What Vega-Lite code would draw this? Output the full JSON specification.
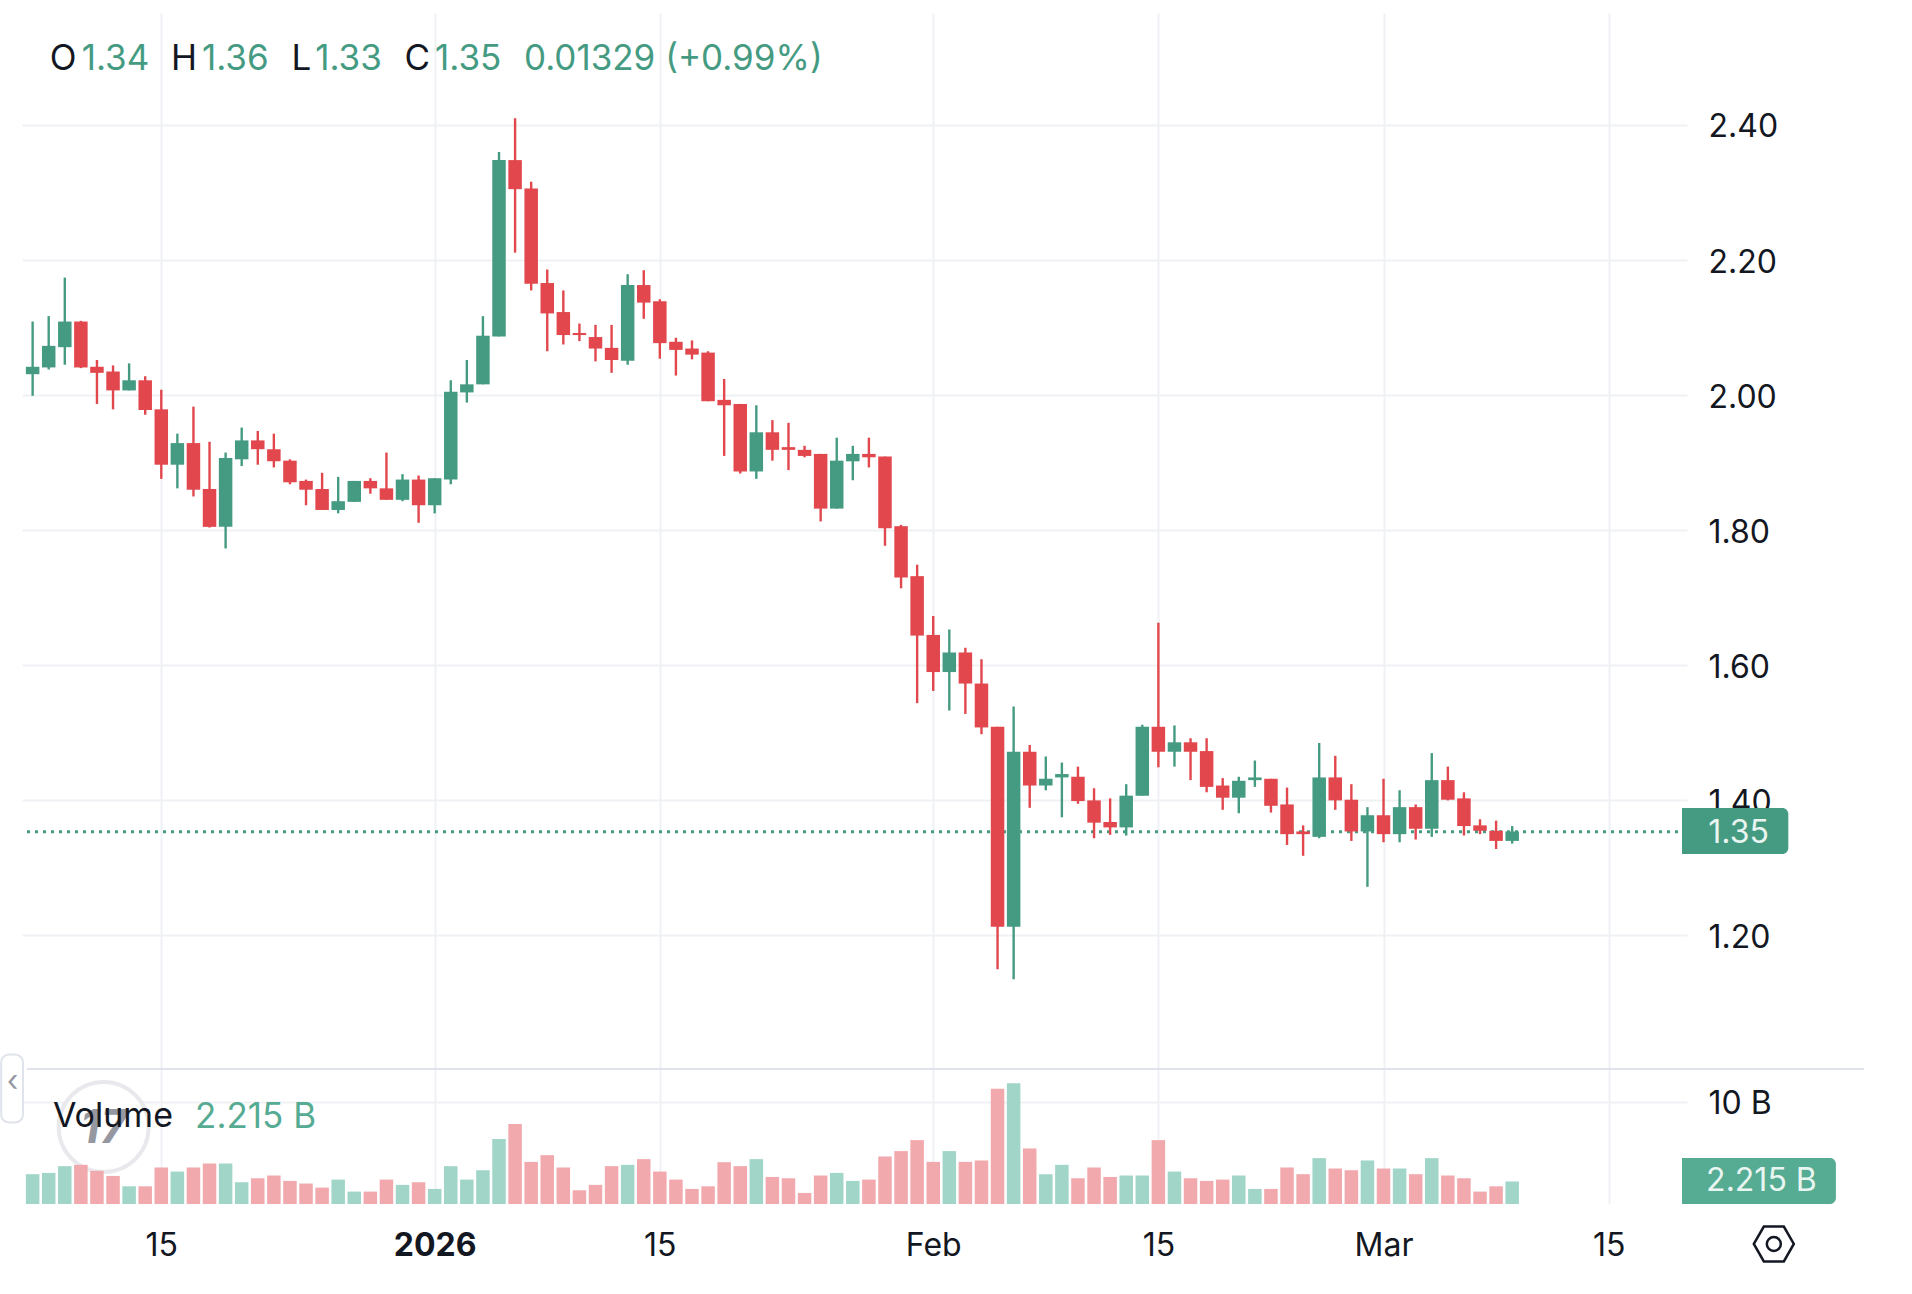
{
"$schema":"https://vega.github.io/schema/vega-lite/v6.json",
"background":"#ffffff",
"padding":{"left":0,"top":13,"right":0,"bottom":0},
"spacing":0,
"bounds":"flush",
"config":{"view":{"stroke":null},"text":{"font":"Inter"},"axis":{"labelFont":"Inter"}},
"datasets":{"one":[{}],"candles":[
{"date":"2025-12-07","open":2.031,"high":2.109,"low":1.999,"close":2.042,"volume":2.93},
{"date":"2025-12-08","open":2.041,"high":2.117,"low":2.038,"close":2.073,"volume":3.06},
{"date":"2025-12-09","open":2.071,"high":2.174,"low":2.045,"close":2.109,"volume":3.72},
{"date":"2025-12-10","open":2.109,"high":2.11,"low":2.04,"close":2.041,"volume":3.85},
{"date":"2025-12-11","open":2.042,"high":2.052,"low":1.987,"close":2.033,"volume":3.26},
{"date":"2025-12-12","open":2.035,"high":2.044,"low":1.979,"close":2.007,"volume":2.76},
{"date":"2025-12-13","open":2.007,"high":2.047,"low":2.007,"close":2.022,"volume":1.74},
{"date":"2025-12-14","open":2.022,"high":2.028,"low":1.971,"close":1.978,"volume":1.74},
{"date":"2025-12-15","open":1.979,"high":2.008,"low":1.876,"close":1.897,"volume":3.59},
{"date":"2025-12-16","open":1.897,"high":1.943,"low":1.862,"close":1.929,"volume":3.19},
{"date":"2025-12-17","open":1.929,"high":1.983,"low":1.85,"close":1.86,"volume":3.59},
{"date":"2025-12-18","open":1.861,"high":1.931,"low":1.804,"close":1.805,"volume":3.98},
{"date":"2025-12-19","open":1.805,"high":1.915,"low":1.773,"close":1.907,"volume":3.98},
{"date":"2025-12-20","open":1.905,"high":1.952,"low":1.895,"close":1.933,"volume":2.14},
{"date":"2025-12-21","open":1.933,"high":1.947,"low":1.897,"close":1.92,"volume":2.53},
{"date":"2025-12-22","open":1.92,"high":1.943,"low":1.893,"close":1.902,"volume":2.8},
{"date":"2025-12-23","open":1.903,"high":1.905,"low":1.868,"close":1.871,"volume":2.27},
{"date":"2025-12-24","open":1.873,"high":1.875,"low":1.837,"close":1.86,"volume":2.01},
{"date":"2025-12-25","open":1.861,"high":1.885,"low":1.83,"close":1.83,"volume":1.61},
{"date":"2025-12-26","open":1.83,"high":1.879,"low":1.825,"close":1.843,"volume":2.4},
{"date":"2025-12-27","open":1.842,"high":1.873,"low":1.842,"close":1.873,"volume":1.22},
{"date":"2025-12-28","open":1.873,"high":1.877,"low":1.854,"close":1.862,"volume":1.22},
{"date":"2025-12-29","open":1.862,"high":1.915,"low":1.845,"close":1.845,"volume":2.4},
{"date":"2025-12-30","open":1.845,"high":1.883,"low":1.843,"close":1.875,"volume":1.88},
{"date":"2025-12-31","open":1.875,"high":1.881,"low":1.811,"close":1.837,"volume":2.14},
{"date":"2026-01-01","open":1.837,"high":1.877,"low":1.825,"close":1.877,"volume":1.48},
{"date":"2026-01-02","open":1.875,"high":2.022,"low":1.868,"close":2.005,"volume":3.72},
{"date":"2026-01-03","open":2.004,"high":2.052,"low":1.989,"close":2.016,"volume":2.4},
{"date":"2026-01-04","open":2.016,"high":2.117,"low":2.016,"close":2.088,"volume":3.32},
{"date":"2026-01-05","open":2.087,"high":2.36,"low":2.087,"close":2.348,"volume":6.38},
{"date":"2026-01-06","open":2.348,"high":2.41,"low":2.211,"close":2.305,"volume":7.86},
{"date":"2026-01-07","open":2.306,"high":2.316,"low":2.155,"close":2.165,"volume":4.14},
{"date":"2026-01-08","open":2.166,"high":2.186,"low":2.065,"close":2.121,"volume":4.8},
{"date":"2026-01-09","open":2.123,"high":2.155,"low":2.075,"close":2.089,"volume":3.59},
{"date":"2026-01-10","open":2.092,"high":2.106,"low":2.08,"close":2.089,"volume":1.35},
{"date":"2026-01-11","open":2.086,"high":2.104,"low":2.05,"close":2.069,"volume":1.88},
{"date":"2026-01-12","open":2.07,"high":2.104,"low":2.033,"close":2.052,"volume":3.72},
{"date":"2026-01-13","open":2.051,"high":2.179,"low":2.045,"close":2.163,"volume":3.85},
{"date":"2026-01-14","open":2.163,"high":2.185,"low":2.113,"close":2.137,"volume":4.41},
{"date":"2026-01-15","open":2.139,"high":2.142,"low":2.054,"close":2.077,"volume":3.19},
{"date":"2026-01-16","open":2.079,"high":2.085,"low":2.029,"close":2.067,"volume":2.4},
{"date":"2026-01-17","open":2.069,"high":2.081,"low":2.053,"close":2.06,"volume":1.48},
{"date":"2026-01-18","open":2.063,"high":2.065,"low":1.991,"close":1.991,"volume":1.74},
{"date":"2026-01-19","open":1.993,"high":2.024,"low":1.91,"close":1.985,"volume":4.11},
{"date":"2026-01-20","open":1.987,"high":1.987,"low":1.884,"close":1.887,"volume":3.72},
{"date":"2026-01-21","open":1.887,"high":1.985,"low":1.876,"close":1.945,"volume":4.41},
{"date":"2026-01-22","open":1.945,"high":1.963,"low":1.903,"close":1.919,"volume":2.66},
{"date":"2026-01-23","open":1.923,"high":1.959,"low":1.889,"close":1.919,"volume":2.53},
{"date":"2026-01-24","open":1.919,"high":1.925,"low":1.908,"close":1.91,"volume":1.09},
{"date":"2026-01-25","open":1.913,"high":1.913,"low":1.813,"close":1.832,"volume":2.8},
{"date":"2026-01-26","open":1.832,"high":1.937,"low":1.832,"close":1.903,"volume":3.06},
{"date":"2026-01-27","open":1.902,"high":1.925,"low":1.874,"close":1.913,"volume":2.27},
{"date":"2026-01-28","open":1.913,"high":1.937,"low":1.893,"close":1.908,"volume":2.4},
{"date":"2026-01-29","open":1.909,"high":1.909,"low":1.777,"close":1.803,"volume":4.67},
{"date":"2026-01-30","open":1.806,"high":1.808,"low":1.714,"close":1.73,"volume":5.2},
{"date":"2026-01-31","open":1.732,"high":1.749,"low":1.544,"close":1.644,"volume":6.28},
{"date":"2026-02-01","open":1.645,"high":1.673,"low":1.562,"close":1.59,"volume":4.14},
{"date":"2026-02-02","open":1.59,"high":1.653,"low":1.533,"close":1.619,"volume":5.2},
{"date":"2026-02-03","open":1.619,"high":1.626,"low":1.528,"close":1.573,"volume":4.14},
{"date":"2026-02-04","open":1.573,"high":1.609,"low":1.498,"close":1.508,"volume":4.28},
{"date":"2026-02-05","open":1.509,"high":1.509,"low":1.15,"close":1.213,"volume":11.32},
{"date":"2026-02-06","open":1.213,"high":1.539,"low":1.135,"close":1.472,"volume":11.88},
{"date":"2026-02-07","open":1.472,"high":1.482,"low":1.389,"close":1.422,"volume":5.46},
{"date":"2026-02-08","open":1.422,"high":1.465,"low":1.415,"close":1.432,"volume":2.93},
{"date":"2026-02-09","open":1.434,"high":1.456,"low":1.375,"close":1.439,"volume":3.85},
{"date":"2026-02-10","open":1.435,"high":1.45,"low":1.395,"close":1.399,"volume":2.53},
{"date":"2026-02-11","open":1.4,"high":1.418,"low":1.344,"close":1.367,"volume":3.59},
{"date":"2026-02-12","open":1.368,"high":1.403,"low":1.349,"close":1.36,"volume":2.66},
{"date":"2026-02-13","open":1.36,"high":1.424,"low":1.348,"close":1.407,"volume":2.8},
{"date":"2026-02-14","open":1.407,"high":1.512,"low":1.407,"close":1.509,"volume":2.8},
{"date":"2026-02-15","open":1.509,"high":1.663,"low":1.449,"close":1.472,"volume":6.28},
{"date":"2026-02-16","open":1.472,"high":1.511,"low":1.45,"close":1.486,"volume":3.19},
{"date":"2026-02-17","open":1.486,"high":1.492,"low":1.43,"close":1.472,"volume":2.53},
{"date":"2026-02-18","open":1.473,"high":1.492,"low":1.412,"close":1.42,"volume":2.27},
{"date":"2026-02-19","open":1.422,"high":1.433,"low":1.386,"close":1.404,"volume":2.4},
{"date":"2026-02-20","open":1.404,"high":1.435,"low":1.381,"close":1.429,"volume":2.8},
{"date":"2026-02-21","open":1.43,"high":1.459,"low":1.42,"close":1.434,"volume":1.48},
{"date":"2026-02-22","open":1.432,"high":1.432,"low":1.382,"close":1.392,"volume":1.48},
{"date":"2026-02-23","open":1.394,"high":1.419,"low":1.334,"close":1.35,"volume":3.59},
{"date":"2026-02-24","open":1.354,"high":1.363,"low":1.318,"close":1.35,"volume":2.93},
{"date":"2026-02-25","open":1.346,"high":1.485,"low":1.344,"close":1.434,"volume":4.51},
{"date":"2026-02-26","open":1.434,"high":1.466,"low":1.386,"close":1.4,"volume":3.49},
{"date":"2026-02-27","open":1.401,"high":1.424,"low":1.34,"close":1.354,"volume":3.32},
{"date":"2026-02-28","open":1.354,"high":1.39,"low":1.272,"close":1.378,"volume":4.28},
{"date":"2026-03-01","open":1.378,"high":1.432,"low":1.338,"close":1.35,"volume":3.49},
{"date":"2026-03-02","open":1.35,"high":1.415,"low":1.338,"close":1.39,"volume":3.49},
{"date":"2026-03-03","open":1.39,"high":1.394,"low":1.342,"close":1.358,"volume":2.93},
{"date":"2026-03-04","open":1.358,"high":1.47,"low":1.346,"close":1.43,"volume":4.51},
{"date":"2026-03-05","open":1.43,"high":1.45,"low":1.4,"close":1.401,"volume":2.8},
{"date":"2026-03-06","open":1.403,"high":1.412,"low":1.348,"close":1.362,"volume":2.53},
{"date":"2026-03-07","open":1.363,"high":1.372,"low":1.35,"close":1.355,"volume":1.22},
{"date":"2026-03-08","open":1.355,"high":1.37,"low":1.328,"close":1.34,"volume":1.74},
{"date":"2026-03-09","open":1.34,"high":1.362,"low":1.336,"close":1.354,"volume":2.215}
]},
"vconcat":[
{
"width":1665,
"height":1056,
"encoding":{
"x":{"type":"temporal","title":null,
"scale":{"type":"utc","domain":["2025-12-06T15:36:00Z","2026-03-19T13:26:00Z"]},
"axis":{"values":["2025-12-15","2026-01-01","2026-01-15","2026-02-01","2026-02-15","2026-03-01","2026-03-15"],"labels":false,"ticks":false,"domain":false,"grid":true,"gridColor":"#f0f1f4","gridWidth":2}},
"y":{"type":"quantitative","title":null,
"scale":{"domain":[1.0023,2.5658],"nice":false,"zero":false},
"axis":{"orient":"right","values":[1.2,1.4,1.6,1.8,2.0,2.2,2.4],"format":".2f","ticks":false,"domain":false,"grid":true,"gridColor":"#f0f1f4","gridWidth":2,"labelFontSize":32,"labelColor":"#131722","labelPadding":21,"labelAlign":"left","labelOffset":2}}
},
"layer":[
{"data":{"name":"one"},"mark":{"type":"rule","stroke":"#459b82","strokeWidth":3,"strokeDash":[3,5]},"encoding":{"x":{"datum":{"year":2025,"month":12,"date":6,"hours":15,"minutes":36,"utc":true},"type":"temporal"},"x2":{"datum":{"year":2026,"month":3,"date":19,"hours":13,"minutes":26,"utc":true}},"y":{"datum":1.3537}}},
{"data":{"name":"candles"},"mark":{"type":"rule","strokeWidth":2.4},"encoding":{"x":{"field":"date","type":"temporal"},"y":{"field":"low","type":"quantitative"},"y2":{"field":"high"},"color":{"condition":{"test":"datum.close >= datum.open","value":"#459b82"},"value":"#e1474d"}}},
{"data":{"name":"candles"},"mark":{"type":"bar","size":13.5},"encoding":{"x":{"field":"date","type":"temporal"},"y":{"field":"open","type":"quantitative"},"y2":{"field":"close"},"color":{"condition":{"test":"datum.close >= datum.open","value":"#459b82"},"value":"#e1474d"}}},
{"data":{"name":"one"},"mark":{"type":"rect","fill":"#459b82","cornerRadiusTopRight":6,"cornerRadiusBottomRight":6},"encoding":{"x":{"datum":{"year":2026,"month":3,"date":19,"hours":13,"minutes":26,"utc":true},"type":"temporal"},"x2":{"datum":{"year":2026,"month":3,"date":26,"hours":4,"minutes":5,"utc":true}},"y":{"datum":1.3887},"y2":{"datum":1.3207}}},
{"data":{"name":"one"},"mark":{"type":"text","text":"1.35","fill":"#e9f5f1","fontSize":32,"align":"center","baseline":"middle"},"encoding":{"x":{"datum":{"year":2026,"month":3,"date":23,"hours":1,"minutes":55,"utc":true},"type":"temporal"},"y":{"datum":1.351}}},
{"data":{"name":"one"},"mark":{"type":"text","text":"O","fill":"#131722","fontSize":35,"align":"left","baseline":"middle"},"encoding":{"x":{"datum":{"year":2025,"month":12,"date":8,"hours":1,"minutes":40,"utc":true},"type":"temporal"},"y":{"datum":2.497}}},
{"data":{"name":"one"},"mark":{"type":"text","text":"1.34","fill":"#459b82","fontSize":35,"align":"left","baseline":"middle"},"encoding":{"x":{"datum":{"year":2025,"month":12,"date":10,"hours":1,"minutes":12,"utc":true},"type":"temporal"},"y":{"datum":2.497}}},
{"data":{"name":"one"},"mark":{"type":"text","text":"H","fill":"#131722","fontSize":35,"align":"left","baseline":"middle"},"encoding":{"x":{"datum":{"year":2025,"month":12,"date":15,"hours":14,"minutes":38,"utc":true},"type":"temporal"},"y":{"datum":2.497}}},
{"data":{"name":"one"},"mark":{"type":"text","text":"1.36","fill":"#459b82","fontSize":35,"align":"left","baseline":"middle"},"encoding":{"x":{"datum":{"year":2025,"month":12,"date":17,"hours":12,"minutes":43,"utc":true},"type":"temporal"},"y":{"datum":2.497}}},
{"data":{"name":"one"},"mark":{"type":"text","text":"L","fill":"#131722","fontSize":35,"align":"left","baseline":"middle"},"encoding":{"x":{"datum":{"year":2025,"month":12,"date":23,"hours":2,"minutes":10,"utc":true},"type":"temporal"},"y":{"datum":2.497}}},
{"data":{"name":"one"},"mark":{"type":"text","text":"1.33","fill":"#459b82","fontSize":35,"align":"left","baseline":"middle"},"encoding":{"x":{"datum":{"year":2025,"month":12,"date":24,"hours":13,"minutes":41,"utc":true},"type":"temporal"},"y":{"datum":2.497}}},
{"data":{"name":"one"},"mark":{"type":"text","text":"C","fill":"#131722","fontSize":35,"align":"left","baseline":"middle"},"encoding":{"x":{"datum":{"year":2025,"month":12,"date":30,"hours":3,"minutes":7,"utc":true},"type":"temporal"},"y":{"datum":2.497}}},
{"data":{"name":"one"},"mark":{"type":"text","text":"1.35","fill":"#459b82","fontSize":35,"align":"left","baseline":"middle"},"encoding":{"x":{"datum":{"year":2026,"month":1,"date":1,"hours":0,"minutes":29,"utc":true},"type":"temporal"},"y":{"datum":2.497}}},
{"data":{"name":"one"},"mark":{"type":"text","text":"0.01329 (+0.99%)","fill":"#459b82","fontSize":35,"align":"left","baseline":"middle"},"encoding":{"x":{"datum":{"year":2026,"month":1,"date":6,"hours":13,"minutes":12,"utc":true},"type":"temporal"},"y":{"datum":2.497}}}
]
},
{
"width":1665,
"height":135,
"encoding":{
"x":{"type":"temporal","title":null,
"scale":{"type":"utc","domain":["2025-12-06T15:36:00Z","2026-03-19T13:26:00Z"]},
"axis":{"values":["2025-12-15","2026-01-01","2026-01-15","2026-02-01","2026-02-15","2026-03-01","2026-03-15"],
"labelExpr":"utcdate(datum.value) == 15 ? '15' : utcmonth(datum.value) == 0 ? '2026' : utcFormat(datum.value, '%b')",
"labelFontWeight":{"condition":{"test":"utcmonth(datum.value) == 0 && utcdate(datum.value) == 1","value":"bold"},"value":"normal"},
"ticks":false,"domain":false,"grid":true,"gridColor":"#f0f1f4","gridWidth":2,"labelFontSize":32,"labelColor":"#131722","labelPadding":26,"labelFlush":false,"labelOverlap":false}},
"y":{"type":"quantitative","title":null,
"scale":{"domain":[0,13.27],"nice":false},
"axis":{"orient":"right","values":[10],"labelExpr":"'10 B'","ticks":false,"domain":false,"grid":true,"gridColor":"#f0f1f4","gridWidth":2,"labelFontSize":32,"labelColor":"#131722","labelPadding":21,"labelAlign":"left","labelOffset":1}}
},
"layer":[
{"data":{"name":"one"},"mark":{"type":"rule","stroke":"#e0e3eb","strokeWidth":2},"encoding":{"x":{"datum":{"year":2025,"month":12,"date":6,"hours":15,"minutes":36,"utc":true},"type":"temporal"},"x2":{"datum":{"year":2026,"month":3,"date":30,"hours":20,"minutes":53,"utc":true}},"y":{"datum":13.27}}},
{"data":{"name":"one"},"mark":{"type":"rect","fill":"#ffffff","stroke":"#e0e3eb","strokeWidth":2,"cornerRadius":8},"encoding":{"x":{"datum":{"year":2025,"month":12,"date":5,"hours":1,"minutes":2,"utc":true},"type":"temporal"},"x2":{"datum":{"year":2025,"month":12,"date":6,"hours":9,"minutes":36,"utc":true}},"y":{"datum":14.7},"y2":{"datum":8.0}}},
{"data":{"name":"one"},"mark":{"type":"text","text":"‹","fill":"#9598a1","fontSize":30,"align":"center","baseline":"middle"},"encoding":{"x":{"datum":{"year":2025,"month":12,"date":5,"hours":18,"utc":true},"type":"temporal"},"y":{"datum":12.0}}},
{"data":{"name":"one"},"mark":{"type":"point","shape":"circle","size":8100,"filled":true,"fill":"#ffffff","stroke":"#e9e9ed","strokeWidth":4,"opacity":1},"encoding":{"x":{"datum":{"year":2025,"month":12,"date":11,"hours":10,"utc":true},"type":"temporal"},"y":{"datum":7.57}}},
{"data":{"name":"one"},"mark":{"type":"text","text":"17","fill":"#9598a1","fontSize":46,"fontWeight":"bold","fontStyle":"italic","align":"center","baseline":"middle"},"encoding":{"x":{"datum":{"year":2025,"month":12,"date":11,"hours":10,"utc":true},"type":"temporal"},"y":{"datum":7.4}}},
{"data":{"name":"candles"},"mark":{"type":"bar","size":13.5},"encoding":{"x":{"field":"date","type":"temporal"},"y":{"field":"volume","type":"quantitative"},"color":{"condition":{"test":"datum.close >= datum.open","value":"#a0d5c8"},"value":"#f1a9ad"}}},
{"data":{"name":"one"},"mark":{"type":"rect","fill":"#56ab93","cornerRadiusTopRight":6,"cornerRadiusBottomRight":6},"encoding":{"x":{"datum":{"year":2026,"month":3,"date":19,"hours":13,"minutes":26,"utc":true},"type":"temporal"},"x2":{"datum":{"year":2026,"month":3,"date":29,"hours":3,"minutes":7,"utc":true}},"y":{"datum":4.52},"y2":{"datum":0}}},
{"data":{"name":"one"},"mark":{"type":"text","text":"2.215 B","fill":"#e9f5f1","fontSize":32,"align":"center","baseline":"middle"},"encoding":{"x":{"datum":{"year":2026,"month":3,"date":24,"hours":12,"utc":true},"type":"temporal"},"y":{"datum":2.26}}},
{"data":{"name":"one"},"mark":{"type":"text","text":"Volume","fill":"#131722","fontSize":34,"align":"left","baseline":"middle"},"encoding":{"x":{"datum":{"year":2025,"month":12,"date":8,"hours":6,"minutes":14,"utc":true},"type":"temporal"},"y":{"datum":8.55}}},
{"data":{"name":"one"},"mark":{"type":"text","text":"2.215 B","fill":"#56ab93","fontSize":35,"align":"left","baseline":"middle"},"encoding":{"x":{"datum":{"year":2025,"month":12,"date":17,"hours":2,"minutes":24,"utc":true},"type":"temporal"},"y":{"datum":8.55}}},
{"data":{"name":"one"},"mark":{"type":"point","shape":"M-1,0L-0.5,-0.87L0.5,-0.87L1,0L0.5,0.87L-0.5,0.87Z","size":1600,"filled":false,"stroke":"#131722","strokeWidth":2.5,"opacity":1},"encoding":{"x":{"datum":{"year":2026,"month":3,"date":25,"hours":6,"minutes":29,"utc":true},"type":"temporal"},"y":{"datum":-3.93}}},
{"data":{"name":"one"},"mark":{"type":"point","shape":"circle","size":196,"filled":false,"stroke":"#131722","strokeWidth":2.5,"opacity":1},"encoding":{"x":{"datum":{"year":2026,"month":3,"date":25,"hours":6,"minutes":29,"utc":true},"type":"temporal"},"y":{"datum":-3.93}}}
]
}
]
}
